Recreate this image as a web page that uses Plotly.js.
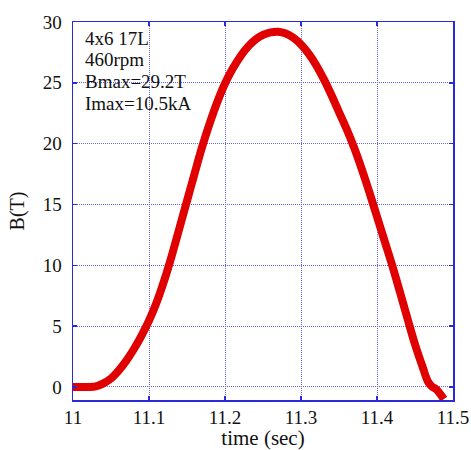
<!DOCTYPE html>
<html><head><meta charset="utf-8">
<script src="https://cdn.plot.ly/plotly-3.0.1.min.js"></script>
<style>html,body{margin:0;padding:0;background:#fff}</style>
</head><body>
<div id="chart" style="width:471px;height:450px"></div>
<script>
var timeSec = [11.000,11.010,11.020,11.030,11.040,11.050,11.060,11.070,11.080,11.090,11.100,11.110,11.120,11.130,11.140,11.150,11.160,11.170,11.180,11.190,11.200,11.210,11.220,11.230,11.240,11.250,11.260,11.270,11.280,11.290,11.300,11.310,11.320,11.330,11.340,11.350,11.360,11.370,11.380,11.390,11.400,11.410,11.420,11.430,11.440,11.450,11.460,11.467,11.472,11.478,11.488];
var fieldT = [0,0,0,0.05,0.3,0.7,1.35,2.15,3.1,4.2,5.45,6.95,8.75,10.8,13.05,15.3,17.55,19.75,21.7,23.45,24.95,26.15,27.15,27.95,28.55,28.95,29.15,29.2,29.05,28.7,28.15,27.4,26.45,25.3,24.0,22.6,21.2,19.65,17.9,16.0,14.0,12.0,10.0,7.85,5.65,3.5,1.65,0.45,0.05,-0.2,-1.0];
var xTicks = [11,11.1,11.2,11.3,11.4,11.5];
var yTicks = [0,5,10,15,20,25,30];
var infoLines = ["4x6 17L","460rpm","Bmax=29.2T","Imax=10.5kA"];

var serif = "Liberation Serif, Times New Roman, serif";
var axisCommon = {
  showgrid:true, gridcolor:"#6464f0", griddash:"1px,1px", gridwidth:1,
  showline:true, linecolor:"#2a2ad8", linewidth:1.5, mirror:"ticks",
  ticks:"inside", ticklen:4, tickcolor:"#2a2ad8", tickwidth:1.5,
  zeroline:false, tickfont:{family:serif,size:19,color:"#111"}
};
var plotTop = 22, plotH = 378;
var annots = infoLines.map(function(t,i){
  var py = 38 + i*21.7;
  return {xref:"paper",yref:"paper",x:0.026,y:1-(py-plotTop)/plotH,xanchor:"left",yanchor:"middle",
    showarrow:false,text:t,font:{family:serif,size:19,color:"#111"}};
});
var layout = {
  width:471, height:450,
  margin:{l:73,r:18,t:plotTop,b:50},
  paper_bgcolor:"#fff", plot_bgcolor:"#fff",
  showlegend:false,
  xaxis:Object.assign({}, axisCommon, {range:[11,11.5], tickvals:xTicks, ticktext:xTicks.map(String),
    title:{text:"time (sec)", font:{family:serif,size:21,color:"#111"}, standoff:8}}),
  yaxis:Object.assign({}, axisCommon, {range:[-1.07,30], tickvals:yTicks, ticklabelstandoff:6,
    title:{text:"B(T)", font:{family:serif,size:20,color:"#111"}, standoff:12}}),
  annotations:annots
};
Plotly.newPlot("chart",[{
  x:timeSec, y:fieldT, mode:"lines", type:"scatter",
  line:{color:"#e00000", width:8, shape:"spline"}
}],layout,{displayModeBar:false,staticPlot:true});
</script>
</body></html>
